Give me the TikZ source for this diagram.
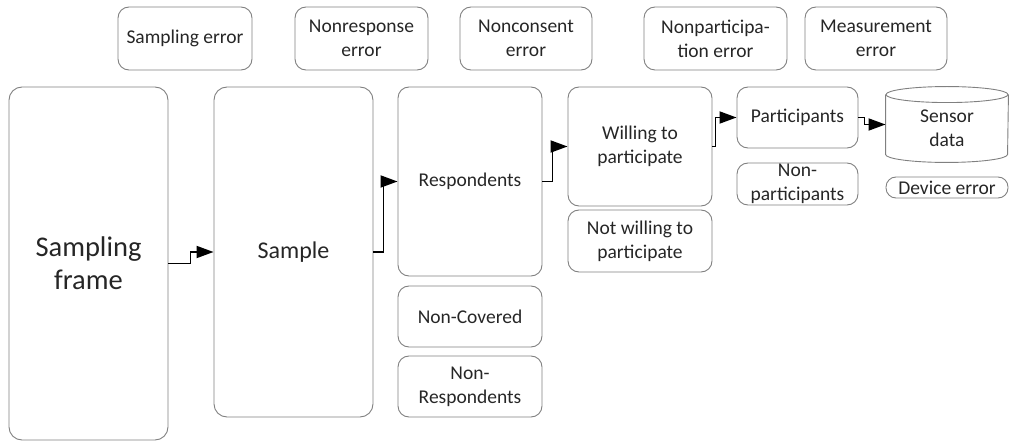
\documentclass[tikz,border=0pt]{standalone}
\usepackage{fontspec}
\setmainfont{Carlito}
\usetikzlibrary{arrows.meta}

\begin{document}
\begin{tikzpicture}[x=1pt, y=-1pt,
    box/.style={draw=black!50, line width=0.9pt, rounded corners=11pt, align=center,
      inner sep=0pt, text=black!85, font=\fontsize{19.5}{24}\selectfont},
    flow/.style={line width=1.8pt, -{Triangle[length=17pt,width=12pt]}}]
    \useasboundingbox (0, 0) rectangle (1010, 441);

    \node[box, minimum width=134, minimum height=63] (samperr) at (185, 38.5) {Sampling error};
    \node[box, minimum width=133, minimum height=63] (nresperr) at (361.5, 38.5) {Nonresponse\\error};
    \node[box, minimum width=132, minimum height=63] (nconserr) at (526, 38.5) {Nonconsent\\error};
    \node[box, minimum width=143, minimum height=63] (npartierr) at (715.5, 38.5) {Nonparticipa-\\tion error};
    \node[box, minimum width=142, minimum height=63] (measerr) at (876, 38.5) {Measurement\\error};

    \node[box, rounded corners=13pt, minimum width=159, minimum height=353,
      font=\fontsize{28.5}{33}\selectfont] (frame) at (88.5, 263.5) {Sampling\\frame};
    \node[box, rounded corners=13pt, minimum width=159, minimum height=330,
      font=\fontsize{24}{28}\selectfont] (sample) at (293.5, 252) {Sample};

    \node[box, minimum width=144, minimum height=189] (resp) at (470, 181.5) {Respondents};
    \node[box, minimum width=144, minimum height=61] (noncov) at (470, 316.5) {Non-Covered};
    \node[box, minimum width=144, minimum height=61] (nonresp) at (470, 386.5) {Non-\\Respondents};

    \node[box, minimum width=144, minimum height=119] (willing) at (640, 146.5) {Willing to\\participate};
    \node[box, minimum width=144, minimum height=62] (notwilling) at (640, 241) {Not willing to\\participate};

    \node[box, minimum width=121, minimum height=61] (parti) at (797.5, 117.5) {Participants};
    \node[box, minimum width=121, minimum height=42] (nonparti) at (797.5, 184) {Non-\\participants};

    \node[box, draw=none, minimum width=122, minimum height=75] (sensor) at (947, 124.5) {};
    \draw[draw=black!50, line width=0.9pt]
    ([yshift=-8pt]sensor.north west) -- 
    ([yshift=8pt]sensor.south west) arc[start angle=180, end angle=360, x radius=61pt, y radius=8pt] --
    ([yshift=-8pt]sensor.north east);
    \draw[draw=black!50, line width=0.9pt] ([yshift=-8pt]sensor.north) ellipse[x radius=61pt, y radius=8pt];
    \node[box, draw=none] at ([yshift=-4pt]sensor.center) {Sensor\\data};
    \node[box, rounded corners=10pt, minimum width=122, minimum height=21] (deverr) at (947, 187.5) {Device error};

    \draw[flow] (frame.east) -- ++(22, 0) |- (sample.west);
    \draw[flow] (sample.east) -- ++(10, 0) |- (resp.west);
    \draw[flow] (resp.east) -- ++(10, 0) |- (willing.west);
    \draw[flow] (willing.east) -- ++(3, 0) |- (parti.west);
    \draw[flow] (parti.east) -- ++(6, 0) |- (sensor.west);
\end{tikzpicture}
\end{document}
